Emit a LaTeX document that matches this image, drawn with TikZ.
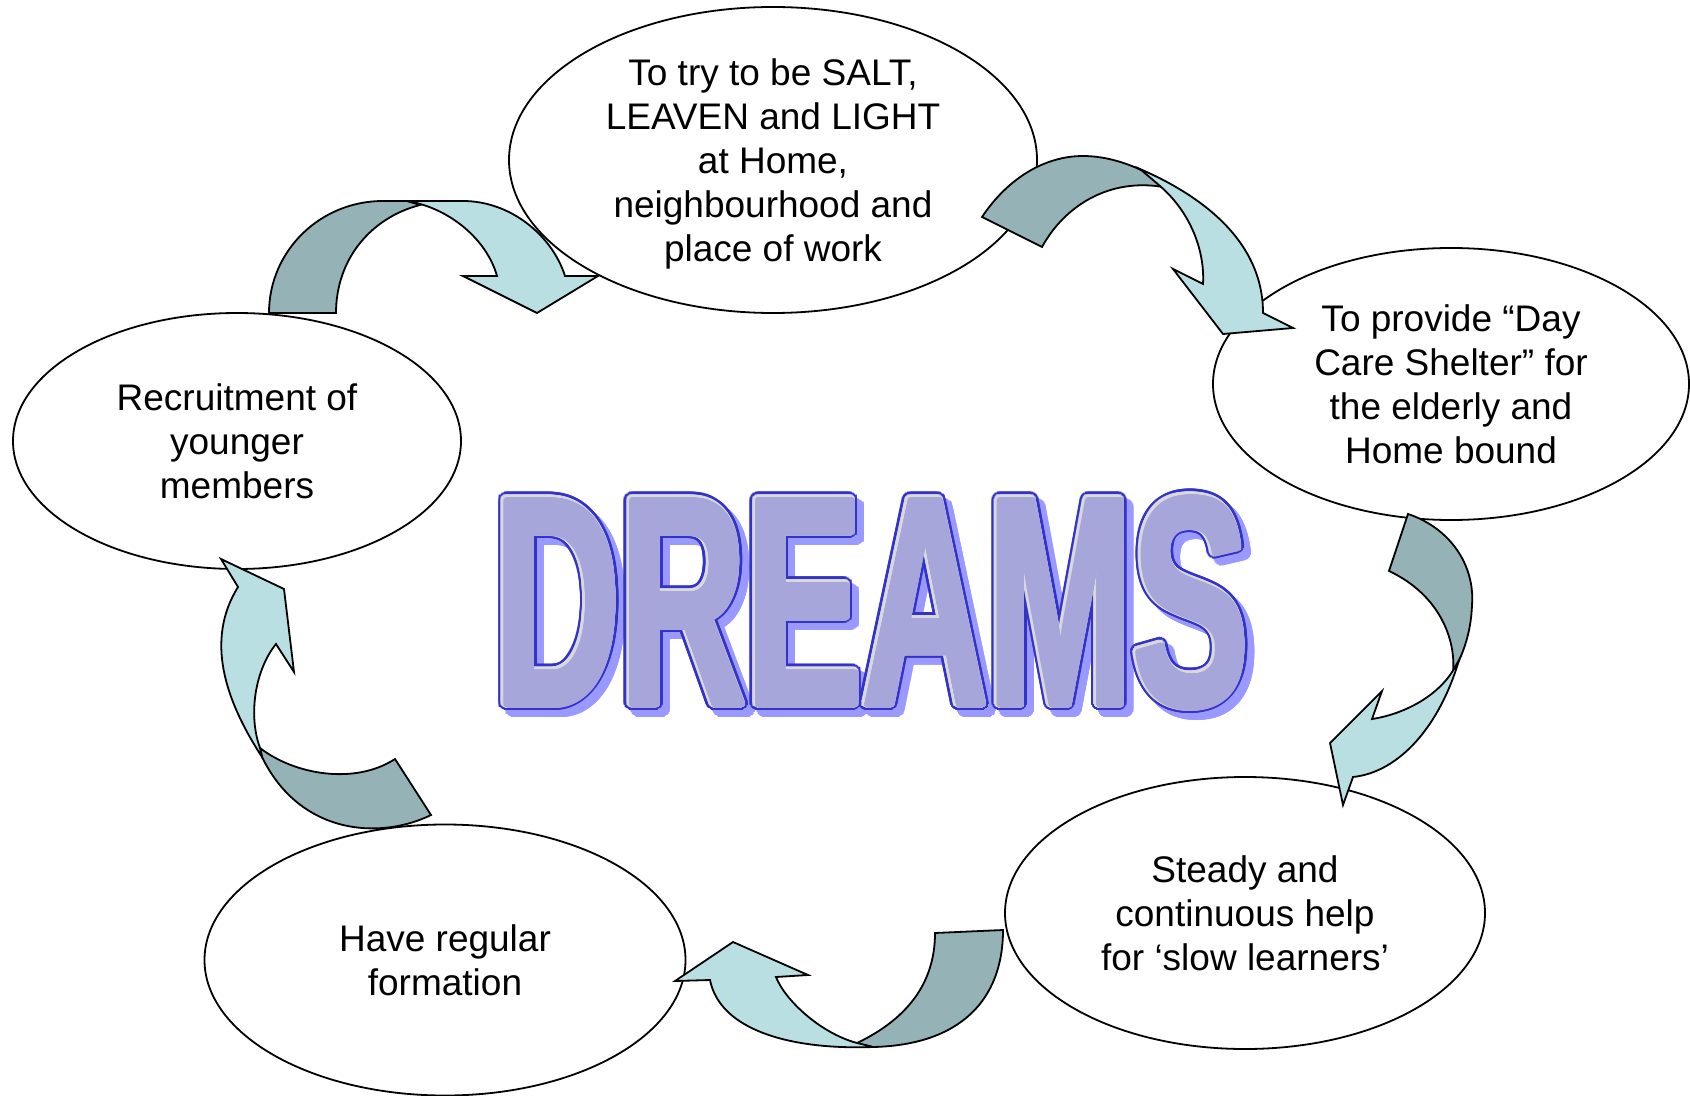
\documentclass[tikz,border=0pt]{standalone}
\usepackage{fontspec}
\setmainfont{Liberation Sans}
\newfontfamily\dreamfont[FakeStretch=0.583]{Liberation Sans Bold}
\usepackage{contour}
\contournumber{24}
\usetikzlibrary{shapes.geometric}
\definecolor{arrowdark}{RGB}{149,179,183}
\definecolor{arrowlight}{RGB}{185,223,227}
\definecolor{wordfill}{RGB}{166,166,219}
\definecolor{wordline}{RGB}{51,51,204}
\definecolor{wordshade}{RGB}{153,153,255}
\definecolor{wordgray}{RGB}{217,217,217}

\begin{document}
\begin{tikzpicture}[
  x = 0.5pt,
  y = -0.5pt,
  bubble/.style = {
    ellipse,
    draw,
    fill=white,
    line width=0.9pt,
    inner sep=0pt,
    align=center,
    font=\fontsize{18.5}{22}\selectfont
  },
  back/.style = {draw, fill=arrowdark, line width=0.9pt},
  front/.style = {draw, fill=arrowlight, line width=0.9pt},
  word/.style = {inner sep=0pt, anchor=base, font=\dreamfont\fontsize{149.3}{150}\selectfont},
  ]
  \useasboundingbox (0,0) rectangle (1690,1096);
  \node[bubble, inner ysep=-3pt, text depth=0pt, minimum width=264pt, minimum height=153pt] (salt) at (773,160)
    {To try to be SALT,\\LEAVEN and LIGHT\\at Home,\\neighbourhood and\\place of work};
  \node[bubble, minimum width=238pt, minimum height=136pt] (shelter) at (1451,384)
    {To provide “Day\\Care Shelter” for\\the elderly and\\Home bound};
  \node[bubble, minimum width=240pt, minimum height=136pt] (learners) at (1245,913)
    {Steady and\\continuous help\\for ‘slow learners’};
  \node[bubble, minimum width=240.5pt, minimum height=135.5pt] (formation) at (445,960)
    {Have regular\\formation};
  \node[bubble, minimum width=224pt, minimum height=128pt] (recruit) at (237,441)
    {Recruitment of\\younger\\members};
  % the word in the middle
  \node[word, text=wordshade] (dreamsshadow) at (878,711) {\contourlength{3.375pt}\contour{wordshade}{DREAMS}};
  \node[word, text=wordline] (dreamsline) at (871,704) {\contourlength{3.375pt}\contour{wordline}{DREAMS}};
  \node[word, text=wordgray] (dreamsgray) at (871,704) {\contourlength{2pt}\contour{wordgray}{DREAMS}};
  \node[word, text=wordfill] (dreams) at (872.5,705.5) {\contourlength{1.25pt}\contour{wordfill}{DREAMS}};
  % recruit -> salt
  \draw[back] (269,313) .. controls (269,251) and (320,201) .. (383,201) -- (407,201) -- (420,205)
    .. controls (370,218) and (336,260) .. (336,313) -- cycle;
  \draw[front] (407,201) -- (463,201) .. controls (510,201) and (552,235) .. (565,276) -- (598,276)
    -- (537,313) -- (463,276) -- (497,276) .. controls (487,240) and (450,208) .. (407,201) -- cycle;
  % salt -> shelter
  \draw[back] (982,217) .. controls (1008,178) and (1045,156) .. (1083,156) .. controls (1105,156) and (1128,163) .. (1147,173)
    -- (1163,187) .. controls (1110,178) and (1065,205) .. (1042,247) -- cycle;
  \draw[front] (1140,169) .. controls (1200,195) and (1263,240) .. (1263,313) -- (1293,328) -- (1223,334)
    -- (1173,269) -- (1203,284) .. controls (1205,250) and (1190,212) .. (1160,186) -- cycle;
  % shelter -> learners
  \draw[back] (1408,514) .. controls (1450,528) and (1475,565) .. (1472,605) .. controls (1471,630) and (1465,648) .. (1457,665)
    -- (1453,672) .. controls (1456,640) and (1440,595) .. (1389,571) -- cycle;
  \draw[front] (1459,660) .. controls (1440,725) and (1400,772) .. (1353,777) -- (1343,805) -- (1330,743)
    -- (1382,691) -- (1372,719) .. controls (1405,714) and (1440,695) .. (1455,667) -- cycle;
  % learners -> formation
  \draw[back] (935,933) -- (1003,930) .. controls (1003,1000) and (960,1045) .. (873,1047) -- (857,1043)
    .. controls (905,1020) and (935,985) .. (935,933) -- cycle;
  \draw[front] (873,1047) .. controls (790,1050) and (720,1030) .. (710,980) -- (675,981) -- (733,942)
    -- (808,975) -- (776,977) .. controls (785,1000) and (820,1033) .. (857,1043) -- cycle;
  % formation -> recruit
  \draw[back] (395,759) -- (431,815) .. controls (380,840) and (300,835) .. (262,757) -- (260,748)
    .. controls (295,775) and (355,785) .. (395,759) -- cycle;
  \draw[front] (262,757) .. controls (225,700) and (205,640) .. (238,587) -- (221,559) -- (284,589)
    -- (294,672) -- (276,644) .. controls (255,670) and (248,715) .. (260,748) -- cycle;
\end{tikzpicture}
\end{document}
